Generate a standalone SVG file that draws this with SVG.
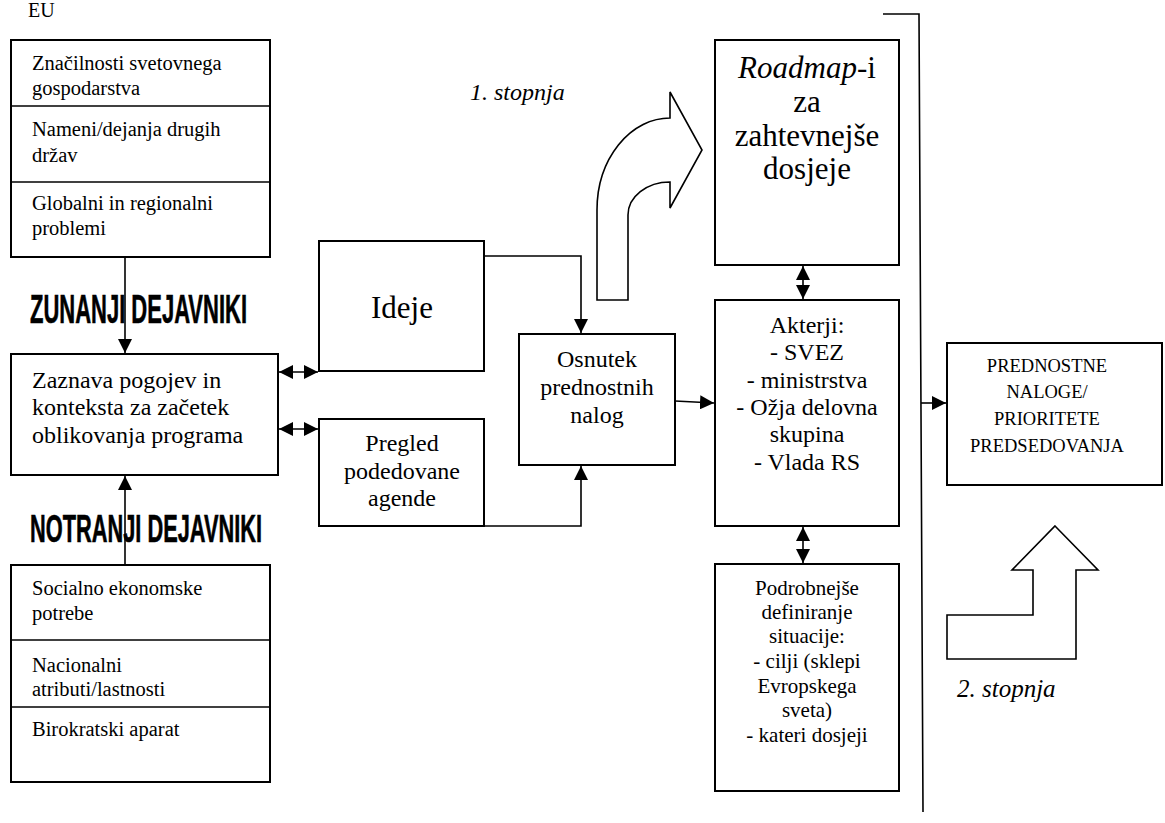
<svg xmlns="http://www.w3.org/2000/svg" width="1165" height="823" viewBox="0 0 1165 823">
<style>
.box{fill:#fff;stroke:#000;stroke-width:2}
.ln{fill:none;stroke:#000;stroke-width:1.6}
.t{font-family:"Liberation Serif","Times New Roman",serif;fill:#000}
.c{text-anchor:middle}
.it{font-style:italic}
.big{font-family:"Liberation Sans Narrow","Liberation Sans",Arial,sans-serif;font-weight:bold;fill:#000;stroke:#000;stroke-width:0.6}
</style>
<defs>
<marker id="ah" markerUnits="userSpaceOnUse" markerWidth="16" markerHeight="14" refX="14" refY="7" orient="auto-start-reverse">
<path d="M0,0 L14,7 L0,14 Z" fill="#000"/>
</marker>
</defs>
<rect width="1165" height="823" fill="#fff"/>

<text class="t" x="28" y="17" font-size="20">EU</text>

<g id="zunanji-faktorji">
<rect class="box" x="11" y="40" width="259" height="217"/>
<line class="ln" x1="11" y1="106" x2="270" y2="106" stroke-width="2"/>
<line class="ln" x1="11" y1="182" x2="270" y2="182" stroke-width="2"/>
<text class="t" font-size="20.5"><tspan x="32" y="70">Značilnosti svetovnega</tspan><tspan x="32" y="95">gospodarstva</tspan></text>
<text class="t" font-size="20.5"><tspan x="32" y="136">Nameni/dejanja drugih</tspan><tspan x="32" y="162">držav</tspan></text>
<text class="t" font-size="20.5"><tspan x="32" y="210">Globalni in regionalni</tspan><tspan x="32" y="235">problemi</tspan></text>
</g>

<g id="zunanji-label">
<text class="big" x="30" y="323" font-size="40" textLength="217" lengthAdjust="spacingAndGlyphs">ZUNANJI DEJAVNIKI</text>
</g>

<g id="zaznava">
<rect class="box" x="11" y="354" width="267" height="121"/>
<text class="t" font-size="24"><tspan x="32" y="388">Zaznava pogojev in</tspan><tspan x="32" y="415">konteksta za začetek</tspan><tspan x="32" y="443">oblikovanja programa</tspan></text>
</g>

<g id="notranji-label">
<text class="big" x="30" y="542" font-size="38" textLength="232" lengthAdjust="spacingAndGlyphs">NOTRANJI DEJAVNIKI</text>
</g>

<g id="notranji-faktorji">
<rect class="box" x="11" y="565" width="259" height="217"/>
<line class="ln" x1="11" y1="640" x2="270" y2="640" stroke-width="2"/>
<line class="ln" x1="11" y1="707" x2="270" y2="707" stroke-width="2"/>
<text class="t" font-size="20.5"><tspan x="32" y="595">Socialno ekonomske</tspan><tspan x="32" y="620">potrebe</tspan></text>
<text class="t" font-size="20.5"><tspan x="32" y="672">Nacionalni</tspan><tspan x="32" y="696">atributi/lastnosti</tspan></text>
<text class="t" font-size="20.5"><tspan x="32" y="736">Birokratski aparat</tspan></text>
</g>

<g id="ideje">
<rect class="box" x="319" y="241" width="165" height="130"/>
<text class="t c" x="402" y="318" font-size="31">Ideje</text>
</g>

<g id="pregled">
<rect class="box" x="319" y="419" width="165" height="107"/>
<text class="t c" font-size="24"><tspan x="402" y="451">Pregled</tspan><tspan x="402" y="479">podedovane</tspan><tspan x="402" y="506">agende</tspan></text>
</g>

<g id="osnutek">
<rect class="box" x="519" y="334" width="156" height="131"/>
<text class="t c" font-size="24"><tspan x="597" y="367">Osnutek</tspan><tspan x="597" y="395">prednostnih</tspan><tspan x="597" y="423">nalog</tspan></text>
</g>

<g id="roadmap">
<rect class="box" x="715" y="40" width="184" height="225"/>
<text class="t c" font-size="31"><tspan x="807" y="78"><tspan font-style="italic">Roadmap</tspan>-i</tspan><tspan x="807" y="112">za</tspan><tspan x="807" y="146">zahtevnejše</tspan><tspan x="807" y="179">dosjeje</tspan></text>
</g>

<g id="akterji">
<rect class="box" x="715" y="300" width="184" height="226"/>
<text class="t c" font-size="24"><tspan x="807" y="333">Akterji:</tspan><tspan x="807" y="360">- SVEZ</tspan><tspan x="807" y="388">- ministrstva</tspan><tspan x="807" y="415">- Ožja delovna</tspan><tspan x="807" y="442">skupina</tspan><tspan x="807" y="470">- Vlada RS</tspan></text>
</g>

<g id="podrobnejse">
<rect class="box" x="715" y="564" width="184" height="227"/>
<text class="t c" font-size="21"><tspan x="807" y="595">Podrobnejše</tspan><tspan x="807" y="619">definiranje</tspan><tspan x="807" y="643">situacije:</tspan><tspan x="807" y="668">- cilji (sklepi</tspan><tspan x="807" y="693">Evropskega</tspan><tspan x="807" y="717">sveta)</tspan><tspan x="807" y="742">- kateri dosjeji</tspan></text>
</g>

<g id="prednostne">
<rect class="box" x="947" y="343" width="215" height="142"/>
<text class="t c" font-size="18.5"><tspan x="1047" y="372">PREDNOSTNE</tspan><tspan x="1047" y="398">NALOGE/</tspan><tspan x="1047" y="425">PRIORITETE</tspan><tspan x="1047" y="452">PREDSEDOVANJA</tspan></text>
</g>

<g id="stopnja1">
<path class="ln" stroke-width="2" fill="#fff" d="M597,300 L597,210 A73,92 0 0 1 670,118 L670,92 L702,150 L670,208 L670,182 A42,33 0 0 0 628,215 L628,300 Z"/>
<text class="t it" x="470" y="100" font-size="24">1. stopnja</text>
</g>

<g id="stopnja2">
<path class="ln" stroke-width="2" fill="#fff" d="M1055,526 L1098,570 L1076,570 L1076,659 L947,659 L947,615 L1033,615 L1033,570 L1012,570 Z"/>
<text class="t it" x="957" y="697" font-size="25">2. stopnja</text>
</g>

<g id="connectors">
<line class="ln" x1="125" y1="257" x2="125" y2="353" marker-end="url(#ah)"/>
<line class="ln" x1="125" y1="565" x2="125" y2="476" marker-end="url(#ah)"/>
<line class="ln" x1="279" y1="372" x2="318" y2="372" marker-start="url(#ah)" marker-end="url(#ah)"/>
<line class="ln" x1="279" y1="429" x2="318" y2="429" marker-start="url(#ah)" marker-end="url(#ah)"/>
<polyline class="ln" points="484,256 581,256 581,333" marker-end="url(#ah)"/>
<polyline class="ln" points="484,526 581,526 581,466" marker-end="url(#ah)"/>
<line class="ln" x1="675" y1="401" x2="714" y2="403" marker-end="url(#ah)"/>
<line class="ln" x1="803" y1="266" x2="803" y2="299" marker-start="url(#ah)" marker-end="url(#ah)"/>
<line class="ln" x1="803" y1="527" x2="803" y2="563" marker-start="url(#ah)" marker-end="url(#ah)"/>
<polyline class="ln" stroke-width="2" points="883,14 919,14 923,812"/>
<line class="ln" x1="921" y1="403" x2="946" y2="403" marker-end="url(#ah)"/>
</g>
</svg>
